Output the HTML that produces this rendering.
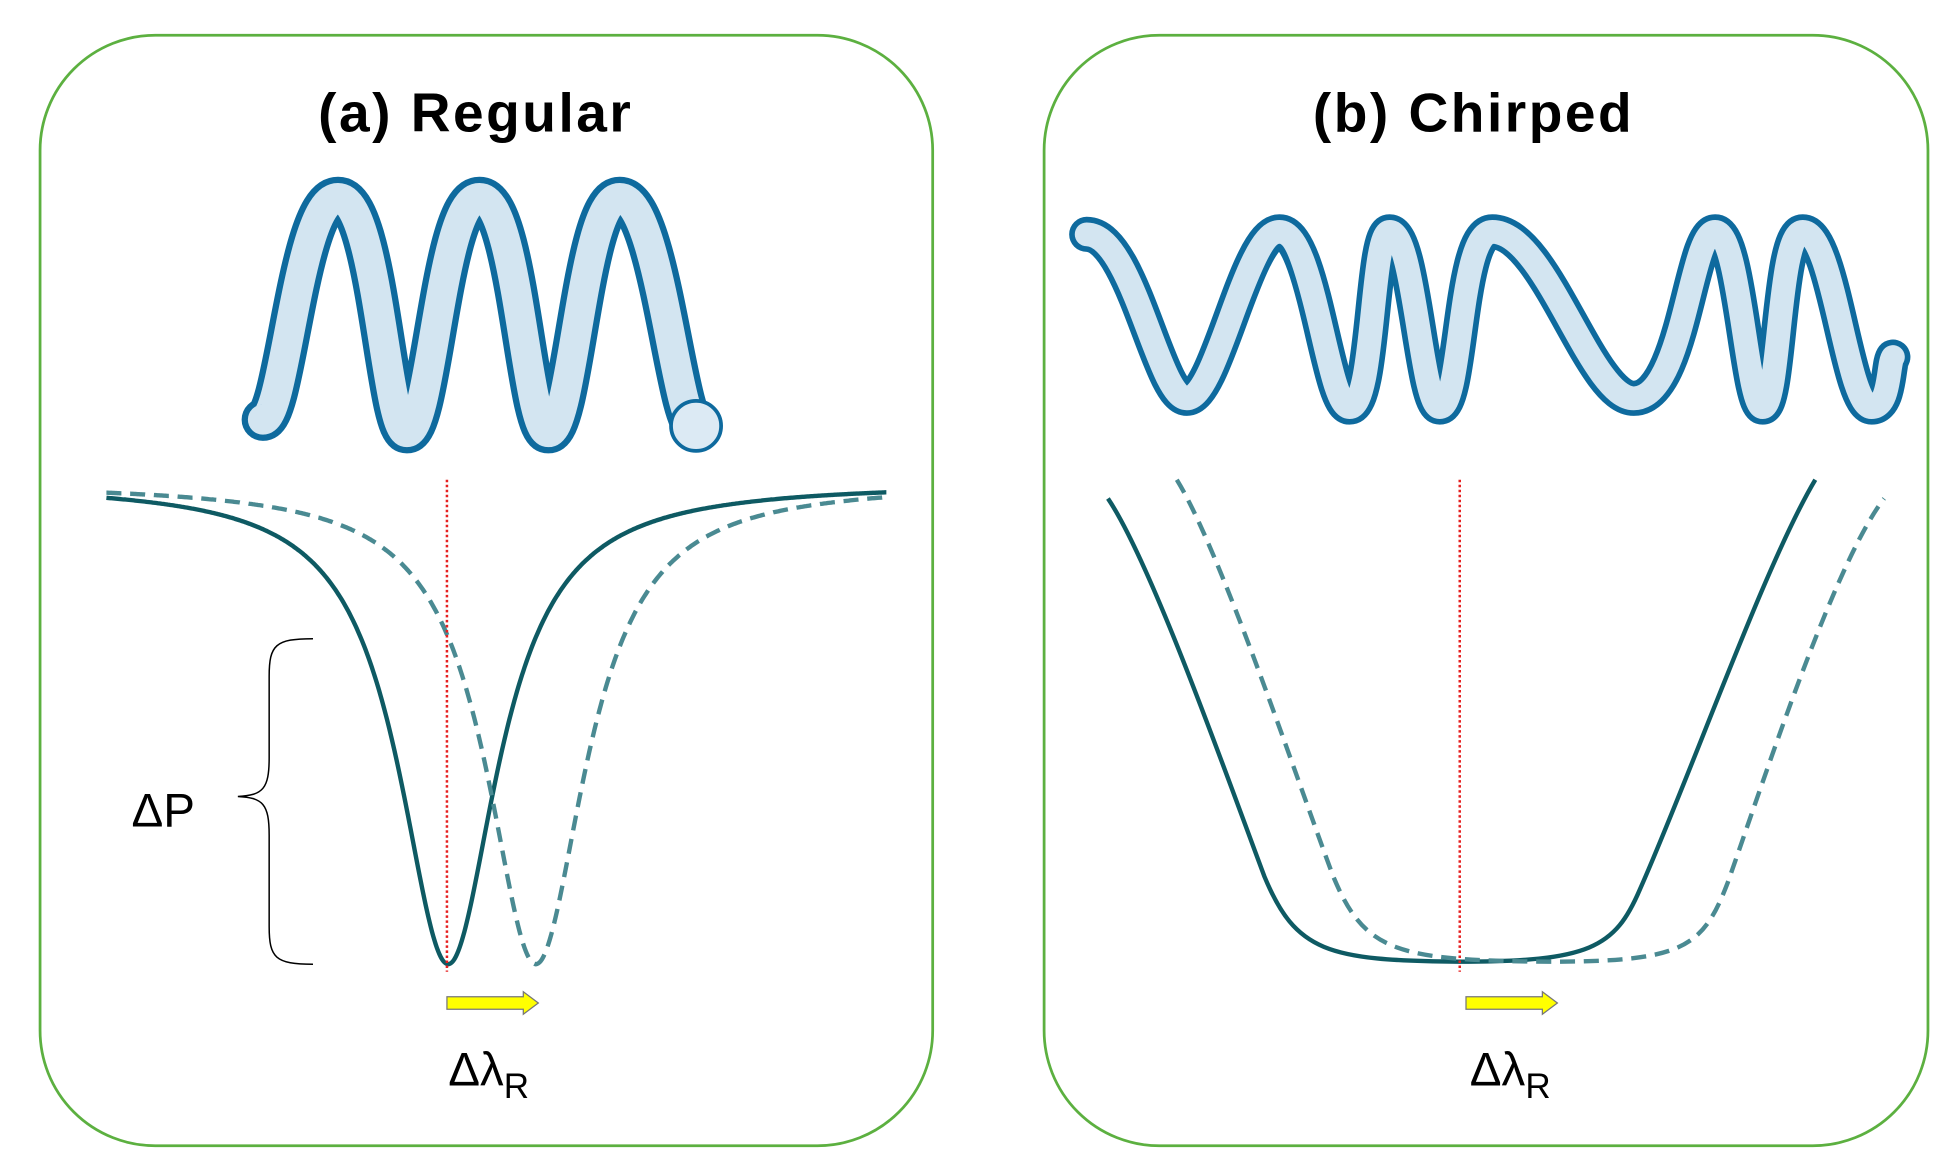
<!DOCTYPE html>
<html><head><meta charset="utf-8"><style>
html,body{margin:0;padding:0;background:#fff;}
svg{display:block;}
text{font-family:"Liberation Sans",Arial,sans-serif;}
</style></head><body>
<svg id="s" width="1953" height="1171" viewBox="0 0 1560 935" xmlns="http://www.w3.org/2000/svg">
<rect x="0" y="0" width="1560" height="935" fill="#fff"/>
<rect x="32" y="28" width="713" height="887" rx="92" fill="none" stroke="#5cb040" stroke-width="2.2"/>
<rect x="834" y="28" width="706" height="887" rx="92" fill="none" stroke="#5cb040" stroke-width="2.2"/>
<text x="380" y="105" font-size="44" font-weight="bold" text-anchor="middle" fill="#000" letter-spacing="2">(a) Regular</text>
<text x="1177" y="105" font-size="44" font-weight="bold" text-anchor="middle" fill="#000" letter-spacing="2">(b) Chirped</text>

<g fill="none" stroke-linecap="round" stroke-linejoin="round">
<path d="M210,335 C228,335 238,158 270,158 C302,158 308,345 325,345 C345,345 352,158 383,158 C414,158 420,345 438,345 C458,345 465,158 495,158 C527,158 540,340 556,340" stroke="#0e6a9e" stroke-width="34"/>
<path d="M210,335 C228,335 238,158 270,158 C302,158 308,345 325,345 C345,345 352,158 383,158 C414,158 420,345 438,345 C458,345 465,158 495,158 C527,158 540,340 556,340" stroke="#d3e5f1" stroke-width="24"/>
<circle cx="556" cy="340" r="20" fill="#dceaf4" stroke="#0e6a9e" stroke-width="3"/>
</g>
<g fill="none" stroke-linecap="round" stroke-linejoin="round">
<path d="M868,187 C905,187 925,318 948,318 C972,318 995,185 1022,185 C1050,185 1060,325 1078,325 C1098,325 1095,185 1110,185 C1130,185 1135,325 1150,325 C1168,325 1165,185 1192,185 C1235,185 1270,318 1305,318 C1345,318 1350,185 1370,185 C1390,185 1395,325 1408,325 C1422,325 1420,185 1440,185 C1465,185 1475,325 1495,325 C1510,325 1508,290 1512,285" stroke="#0e6a9e" stroke-width="28"/>
<path d="M868,187 C905,187 925,318 948,318 C972,318 995,185 1022,185 C1050,185 1060,325 1078,325 C1098,325 1095,185 1110,185 C1130,185 1135,325 1150,325 C1168,325 1165,185 1192,185 C1235,185 1270,318 1305,318 C1345,318 1350,185 1370,185 C1390,185 1395,325 1408,325 C1422,325 1420,185 1440,185 C1465,185 1475,325 1495,325 C1510,325 1508,290 1512,285" stroke="#d3e5f1" stroke-width="19"/>
</g>

<g id="curves" fill="none"></g>
<g fill="none" stroke-width="3.5">
<path d="M885,398 C920,450 980,620 1010,700 C1035,760 1060,767 1165,768 C1270,768 1290,757 1310,710 C1350,620 1410,450 1450,383" stroke="#0e5a63"/>
<path d="M940,383 C975,440 1035,620 1065,700 C1090,760 1115,767 1237,768 C1345,768 1360,757 1380,705 C1410,620 1465,450 1505,398" stroke="#4a8a92" stroke-dasharray="12,7"/>
</g>

<line x1="357" y1="383" x2="357" y2="776" stroke="#e62020" stroke-width="2" stroke-dasharray="2,2"/>
<line x1="1166" y1="383" x2="1166" y2="776" stroke="#e62020" stroke-width="2" stroke-dasharray="2,2"/>

<path d="M250,510 C220,510 215,515 215,540 L215,605 C215,630 210,635 190,636 C210,637 215,642 215,667 L215,740 C215,765 220,770 250,770" fill="none" stroke="#000" stroke-width="1.2"/>
<text x="105" y="660" font-size="38" fill="#000">ΔP</text>

<path d="M357,796 L418,796 L418,792 L430,801 L418,810 L418,806 L357,806 Z" fill="#ffff00" stroke="#777" stroke-width="1"/>
<path d="M1171,796 L1232,796 L1232,792 L1244,801 L1232,810 L1232,806 L1171,806 Z" fill="#ffff00" stroke="#777" stroke-width="1"/>
<text x="358" y="867" font-size="38" fill="#000">Δλ<tspan font-size="28" dy="10">R</tspan></text>
<text x="1174" y="867" font-size="38" fill="#000">Δλ<tspan font-size="28" dy="10">R</tspan></text>
</svg>
<script>
var g=document.getElementById('curves');
function mk(f,x0,x1,dash,col){var d='';for(var x=x0;x<=x1;x+=1){d+=(x==x0?'M':'L')+x+','+f(x).toFixed(1);}
var p=document.createElementNS('http://www.w3.org/2000/svg','path');p.setAttribute('d',d);p.setAttribute('stroke',col);p.setAttribute('stroke-width','3.5');if(dash)p.setAttribute('stroke-dasharray','12,7');g.appendChild(p);}
function lor(c){return function(x){var u=(x-c)/48;return 386+384/(1+u*u);};}
mk(lor(358),85,708,false,'#0e5a63');
mk(lor(428),85,708,true,'#4a8a92');
</script>
</body></html>
